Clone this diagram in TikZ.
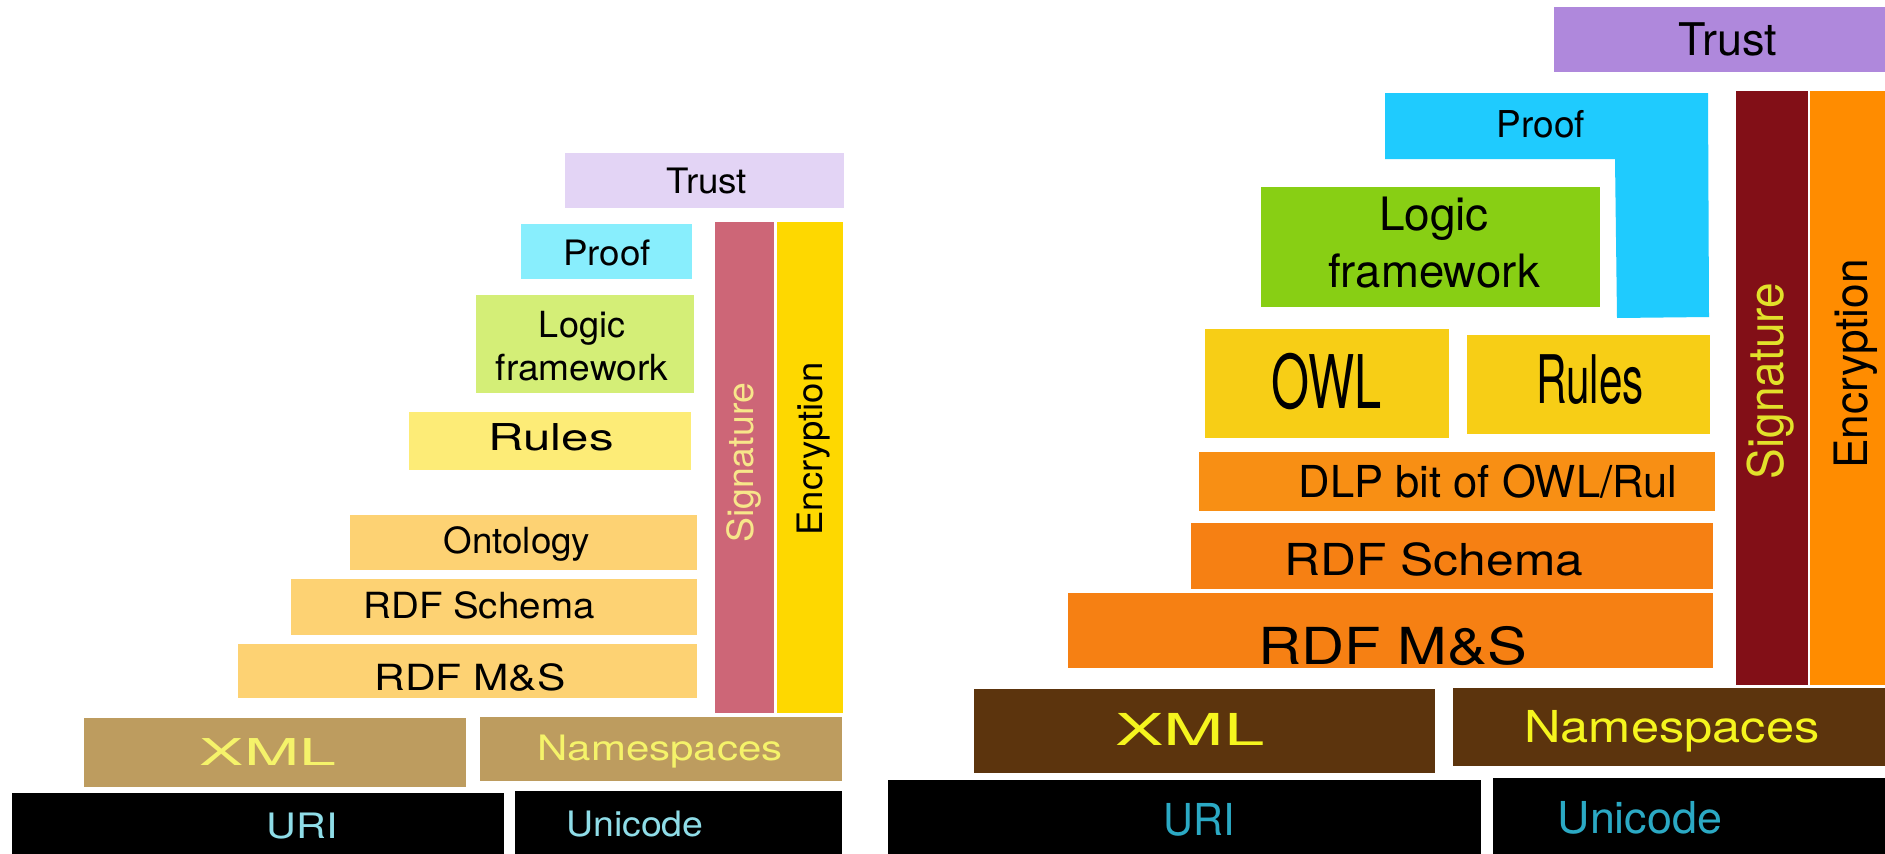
\documentclass[tikz,border=0pt]{standalone}
\usepackage{fontspec}
\setmainfont{TeX Gyre Heros}
\newcommand{\fsz}[1]{\fontsize{#1}{#1}\selectfont}
% left colours
\definecolor{LTrust}{HTML}{E3D4F5}
\definecolor{LProof}{HTML}{88EEFD}
\definecolor{LLogic}{HTML}{D4EE77}
\definecolor{LRules}{HTML}{FDEC77}
\definecolor{LRdf}{HTML}{FDD273}
\definecolor{LSig}{HTML}{CD6677}
\definecolor{LSigT}{HTML}{F7E68A}
\definecolor{LEnc}{HTML}{FED800}
\definecolor{LXml}{HTML}{BD9C5F}
\definecolor{LXmlT}{HTML}{F5F36A}
\definecolor{LUriT}{HTML}{8FDDE8}
% right colours
\definecolor{RTrust}{HTML}{AF88DC}
\definecolor{RProof}{HTML}{1FCBFE}
\definecolor{RLogic}{HTML}{88CF14}
\definecolor{ROwl}{HTML}{F7CE16}
\definecolor{RDlp}{HTML}{F88F14}
\definecolor{RRdf}{HTML}{F68013}
\definecolor{RSig}{HTML}{820F17}
\definecolor{RSigT}{HTML}{E2E12A}
\definecolor{REnc}{HTML}{FF8C00}
\definecolor{RXml}{HTML}{5C340D}
\definecolor{RXmlT}{HTML}{F5F51E}
\definecolor{RUriT}{HTML}{2BA9C4}
\tikzset{
  txt/.style={anchor=base, inner sep=0pt, outer sep=0pt},
  vtxt/.style={anchor=base, inner sep=0pt, outer sep=0pt, rotate=90},
}
\begin{document}
\begin{tikzpicture}[x={(1pt,0pt)}, y={(0pt,-1pt)}]
\useasboundingbox (0,0) rectangle (1885,854);
\fill[white] (0,0) rectangle (1885,854);

% ================= LEFT STACK =================
\fill[LTrust] (565,153) rectangle (844,208);
\fill[LProof] (521,224) rectangle (692,279);
\fill[LLogic] (476,295) rectangle (694,393);
\fill[LRules] (409,412) rectangle (691,470);
\fill[LRdf]   (350,515) rectangle (697,570);
\fill[LRdf]   (291,579) rectangle (697,635);
\fill[LRdf]   (238,644) rectangle (697,698);
\fill[LSig]   (715,222) rectangle (774,713);
\fill[LEnc]   (777,222) rectangle (843,713);
\fill[LXml]   (84,718)  rectangle (466,787);
\fill[LXml]   (480,717) rectangle (842,781);
\fill[black]  (12,793)  rectangle (504,854);
\fill[black]  (515,791) rectangle (842,854);

\node[txt] (lTrust) at (707,193) {\fsz{35}\scalebox{1.05}[1]{Trust}};
\node[txt] (lProof) at (607,265) {\fsz{35}\scalebox{1.05}[1]{Proof}};
\node[txt] (lLogic) at (582,337) {\fsz{36}Logic};
\node[txt] (lFrame) at (582,380) {\fsz{36}\scalebox{1.03}[1]{framework}};
\node[txt] (lRules) at (551,450) {\fsz{37}\scalebox{1.33}[1]{Rules}};
\node[txt] (lOnto)  at (517,553) {\fsz{36}\scalebox{1.02}[1]{Ontology}};
\node[txt] (lRdfs)  at (479,618) {\fsz{36}\scalebox{1.07}[1]{RDF Schema}};
\node[txt] (lRdfms) at (470,690) {\fsz{36}\scalebox{1.18}[1]{RDF M\&S}};
\node[txt, text=LXmlT] (lXml) at (268,765) {\fsz{37}\scalebox{1.79}[1]{XML}};
\node[txt, text=LXmlT] (lNs)  at (660,760) {\fsz{35}\scalebox{1.2}[1]{Namespaces}};
\node[txt, text=LUriT] (lUri) at (302,838) {\fsz{35}\scalebox{1.18}[1]{URI}};
\node[txt, text=LUriT] (lUni) at (635,836) {\fsz{35}\scalebox{1.07}[1]{Unicode}};
\node[vtxt, text=LSigT] (lSig) at (753,463) {\fsz{36}\scalebox{1.04}[1]{Signature}};
\node[vtxt] (lEnc) at (822,449) {\fsz{35}\scalebox{1.04}[1]{Encryption}};

% ================= RIGHT STACK =================
\fill[RTrust] (1554,7) rectangle (1885,72);
\fill[RProof] (1385,93) -- (1708,93) -- (1709,317) -- (1617,318) -- (1615,159) -- (1385,159) -- cycle;
\fill[RLogic] (1261,187) rectangle (1600,307);
\fill[ROwl]   (1205,329) rectangle (1449,438);
\fill[ROwl]   (1467,335) rectangle (1710,434);
\fill[RDlp]   (1199,452) rectangle (1715,511);
\fill[RRdf]   (1191,523) rectangle (1713,589);
\fill[RRdf]   (1068,593) rectangle (1713,668);
\fill[RSig]   (1736,91)  rectangle (1808,685);
\fill[REnc]   (1810,91)  rectangle (1885,685);
\fill[RXml]   (974,689)  rectangle (1435,773);
\fill[RXml]   (1453,688) rectangle (1885,766);
\fill[black]  (888,780)  rectangle (1481,854);
\fill[black]  (1493,778) rectangle (1885,854);

\node[txt] (rTrust) at (1728,55) {\fsz{45}Trust};
\node[txt] (rProof) at (1541,137) {\fsz{37}Proof};
\node[txt] (rLogic) at (1434,230) {\fsz{46}Logic};
\node[txt] (rFrame) at (1434,287) {\fsz{46}\scalebox{0.99}[1]{framework}};
\node[txt] (rOwl)   at (1327,408) {\fsz{74}\scalebox{0.66}[1]{OWL}};
\node[txt] (rRules) at (1590,403) {\fsz{67}\scalebox{0.63}[1]{Rules}};
\node[txt] (rDlp)   at (1488,497) {\fsz{44}\scalebox{0.99}[1]{DLP bit of OWL/Rul}};
\node[txt] (rRdfs)  at (1434,575) {\fsz{44}\scalebox{1.13}[1]{RDF Schema}};
\node[txt] (rRdfms) at (1393,664) {\fsz{51}\scalebox{1.17}[1]{RDF M\&S}};
\node[txt, text=RXmlT] (rXml) at (1190,745) {\fsz{44}\scalebox{1.65}[1]{XML}};
\node[txt, text=RXmlT] (rNs)  at (1672,742) {\fsz{44}\scalebox{1.15}[1]{Namespaces}};
\node[txt, text=RUriT] (rUri) at (1199,835) {\fsz{44}\scalebox{0.94}[1]{URI}};
\node[txt, text=RUriT] (rUni) at (1640,833) {\fsz{44}\scalebox{1.02}[1]{Unicode}};
\node[vtxt, text=RSigT] (rSig) at (1783,381) {\fsz{49}\scalebox{0.94}[1]{Signature}};
\node[vtxt] (rEnc) at (1867,364) {\fsz{46}\scalebox{0.96}[1]{Encryption}};
\end{tikzpicture}
\end{document}
